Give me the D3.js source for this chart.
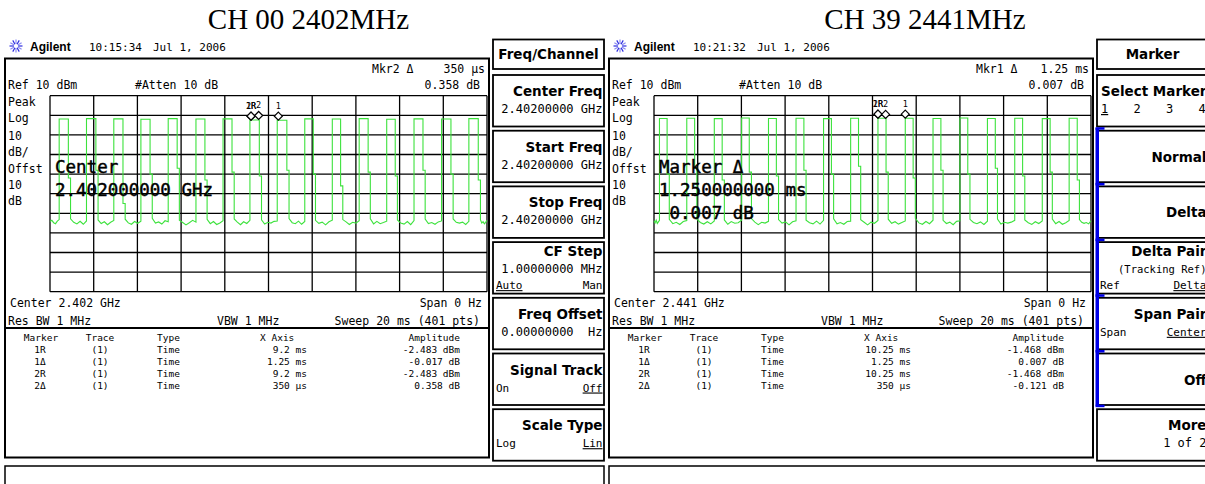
<!DOCTYPE html>
<html>
<head>
<meta charset="utf-8">
<script src="https://cdn.jsdelivr.net/npm/d3@7"></script>
<style>
body { margin: 0; background: #fff; }
svg { display: block; }
</style>
</head>
<body>
<div id="container"></div>
<script>
// Declare the page dimensions.
const width = 1205;
const height = 484;

// Sweep settings shared by both screens.
const sweepMs = 20;
const refDbm = 10;
const dbPerDiv = 10;
const xTicksMs = d3.range(0, 20.001, 2);
const yTicksDbm = d3.range(-90, 10.001, 10);

// Captions and readouts.
const titles = ["CH 00 2402MHz", "CH 39 2441MHz"];
const clockTimes = ["10:15:34", "10:21:32"];
const clockDate = "Jul 1, 2006";
const mkrHead = [["Mkr2 \u0394", "350 \u03bcs", "0.358 dB"], ["Mkr1 \u0394", "1.25 ms", "0.007 dB"]];
const refLine = ["Ref 10 dBm", "#Atten 10 dB"];
const scaleLabels = ["Peak", "Log", "10", "dB/", "Offst", "10", "dB"];
const centerLabels = ["Center 2.402 GHz", "Center 2.441 GHz"];
const bwLine = ["Res BW 1 MHz", "VBW 1 MHz", "Sweep 20 ms (401 pts)"];
const overlayText = [["Center", "2.402000000 GHz"], ["Marker \u0394", "1.250000000 ms", " 0.007 dB"]];

// Marker table.
const tableHead = ["Marker", "Trace", "Type", "X Axis", "Amplitude"];
const markerRows0 = [
	["1R", "(1)", "Time", "9.2 ms", "-2.483 dBm"],
	["1\u0394", "(1)", "Time", "1.25 ms", "-0.017 dB"],
	["2R", "(1)", "Time", "9.2 ms", "-2.483 dBm"],
	["2\u0394", "(1)", "Time", "350 \u03bcs", "0.358 dB"]
];
const markerRows39 = [
	["1R", "(1)", "Time", "10.25 ms", "-1.468 dBm"],
	["1\u0394", "(1)", "Time", "1.25 ms", "0.007 dB"],
	["2R", "(1)", "Time", "10.25 ms", "-1.468 dBm"],
	["2\u0394", "(1)", "Time", "350 \u03bcs", "-0.121 dB"]
];
// On-screen marker labels, with X (ms) and level (dB) of each marker.
const markerLabels = ["1R", "1", "2R", "2"];
const markerMs0 = [9.2, 1.25, 9.2, 0.35];
const markerDb0 = [-2.483, -0.017, -2.483, 0.358];
const markerMs39 = [10.25, 1.25, 10.25, 0.35];
const markerDb39 = [-1.468, 0.007, -1.468, -0.121];

// Trace CH 00: pulse edges (ms), top level and fall shoulder (dBm), floor noise per gap (dBm).
const pulseOn0  = [0.42, 1.67, 2.92, 4.16, 5.41, 6.68, 7.92, 9.15, 10.40, 11.66, 12.92, 14.15, 15.41, 16.66, 17.92, 19.17];
const pulseOff0 = [0.84, 2.10, 3.34, 4.58, 5.82, 7.09, 8.33, 9.58, 10.84, 12.05, 13.30, 14.56, 15.80, 17.07, 18.35, 19.60];
const pulseTop0 = [-1.9, -1.7, -1.8, -2.0, -1.7, -1.9, -1.8, -2.4, -2.5, -1.8, -1.9, -1.7, -2.0, -1.8, -1.9, -1.7];
const pulseMid0 = [-32, -28, -45, -30, -27, -33, -29, -31, -28, -30, -36, -29, -31, -28, -30, -33];
const floor0 = [
	[-54.2, -53.6, -54.8, -55.3, -54.0, -53.2],
	[-52.8, -54.6, -55.4, -54.1, -55.6, -53.9],
	[-53.4, -55.2, -54.3, -55.8, -54.6, -53.7],
	[-53.0, -54.9, -55.6, -54.2, -55.1, -54.0],
	[-52.6, -55.0, -54.4, -55.5, -53.8, -54.3],
	[-53.5, -54.7, -55.9, -54.8, -53.6, -54.5],
	[-53.1, -55.3, -54.2, -55.7, -54.9, -53.8],
	[-52.9, -54.5, -55.8, -54.3, -55.2, -53.6],
	[-53.3, -55.5, -54.6, -55.0, -54.1, -53.9],
	[-52.7, -54.8, -55.3, -54.0, -55.6, -54.2],
	[-53.6, -55.1, -54.5, -55.9, -54.3, -53.5],
	[-53.2, -54.4, -55.7, -54.6, -55.0, -53.8],
	[-52.8, -55.4, -54.1, -55.3, -54.7, -54.0],
	[-53.4, -54.9, -55.5, -54.2, -55.8, -53.7],
	[-53.0, -55.2, -54.7, -55.6, -54.4, -53.9],
	[-52.9, -54.6, -55.0, -54.5, -55.7, -54.1],
	[-53.3, -55.0, -54.3, -55.4, -54.6, -53.6]
];

// Trace CH 39.
const pulseOn39  = [0.25, 1.50, 2.76, 4.01, 5.24, 6.50, 7.76, 9.00, 10.25, 11.50, 12.77, 14.00, 15.26, 16.51, 17.77, 19.00];
const pulseOff39 = [0.60, 1.86, 3.12, 4.36, 5.60, 6.86, 8.12, 9.36, 10.62, 11.86, 13.13, 14.36, 15.62, 16.87, 18.13, 19.37];
const pulseTop39 = [-1.6, -1.5, -1.7, -1.4, -1.6, -1.5, -1.7, -1.5, -1.5, -1.5, -1.6, -1.4, -1.6, -1.5, -1.7, -1.5];
const pulseMid39 = [-30, -27, -33, -29, -31, -28, -30, -26, -29, -32, -28, -30, -27, -31, -29, -33];
const floor39 = [
	[-53.8, -54.9, -53.5, -55.2, -54.4, -53.6],
	[-53.1, -55.3, -54.6, -55.7, -54.2, -53.7],
	[-52.9, -54.7, -55.5, -54.3, -55.4, -53.9],
	[-53.4, -55.6, -54.2, -55.1, -54.8, -53.5],
	[-52.7, -54.5, -55.8, -54.6, -55.0, -54.1],
	[-53.2, -55.0, -54.4, -55.9, -54.3, -53.8],
	[-53.5, -54.8, -55.4, -54.0, -55.5, -53.6],
	[-52.8, -55.4, -54.7, -55.6, -54.2, -54.0],
	[-53.3, -54.6, -55.9, -54.5, -55.1, -53.7],
	[-53.0, -55.1, -54.3, -55.5, -54.7, -53.9],
	[-52.6, -54.9, -55.6, -54.2, -55.3, -53.5],
	[-53.6, -55.2, -54.5, -55.8, -54.1, -53.8],
	[-53.1, -54.7, -55.3, -54.4, -55.7, -54.0],
	[-52.9, -55.5, -54.6, -55.0, -54.5, -53.6],
	[-53.4, -54.8, -55.7, -54.3, -55.2, -53.9],
	[-53.0, -55.3, -54.2, -55.6, -54.8, -53.7],
	[-53.2, -54.6, -55.1, -54.7, -55.4, -53.8]
];

// Softkey menus.
const menuTitles = ["Freq/Channel", "Marker"];
const softkeys0 = [
	{t: "Center Freq", v: "2.40200000 GHz"},
	{t: "Start Freq", v: "2.40200000 GHz"},
	{t: "Stop Freq", v: "2.40200000 GHz"},
	{t: "CF Step", v: "1.00000000 MHz", l: "Auto", r: "Man", u: "l"},
	{t: "Freq Offset", v: "0.00000000  Hz"},
	{t: "Signal Track", l: "On", r: "Off", u: "r"},
	{t: "Scale Type", l: "Log", r: "Lin", u: "r"}
];
const softkeys39 = [
	{t: "Select Marker", nums: ["1", "2", "3", "4"]},
	{t: "Normal"},
	{t: "Delta"},
	{t: "Delta Pair", v: "(Tracking Ref)", l: "Ref", r: "Delta", u: "r"},
	{t: "Span Pair", l: "Span", r: "Center", u: "r"},
	{t: "Off"},
	{t: "More", v: "1 of 2"}
];

const screens = [
	{ox: 0, on: pulseOn0, off: pulseOff0, top: pulseTop0, mid: pulseMid0, floor: floor0,
	 rows: markerRows0, mMs: markerMs0, mDb: markerDb0, keys: softkeys0},
	{ox: 604, on: pulseOn39, off: pulseOff39, top: pulseTop39, mid: pulseMid39, floor: floor39,
	 rows: markerRows39, mMs: markerMs39, mDb: markerDb39, keys: softkeys39}
];

const mono = "'DejaVu Sans Mono', monospace";
const bold = "'DejaVu Sans', sans-serif";
const traceColor = "#3de23d";

// Create the SVG container.
const svg = d3.select("#container").append("svg")
	.attr("width", width)
	.attr("height", height)
	.style("background", "#fff");

const text = function(g, x, y, s, size, anchor, family, weight) {
	return g.append("text")
		.attr("x", x)
		.attr("y", y)
		.attr("font-size", size)
		.attr("font-family", family || mono)
		.attr("font-weight", weight || "normal")
		.attr("text-anchor", anchor || "start")
		.attr("fill", "#000")
		.style("white-space", "pre")
		.text(s);
}

// Build the polyline of a trace from its pulses and floor noise.
const buildTrace = function(sc) {
	const pts = [];
	let t0 = 0;
	for (let i = 0; i <= sc.on.length; i++) {
		const t1 = i < sc.on.length ? sc.on[i] : sweepMs;
		const f = sc.floor[i];
		f.forEach((v, j) => pts.push([t0 + (t1 - t0) * j / (f.length - 1), v]));
		if (i < sc.on.length) {
			pts.push([sc.on[i], sc.top[i]], [sc.off[i], sc.top[i]], [sc.off[i], sc.mid[i]], [sc.off[i] + 0.1, sc.mid[i]]);
			t0 = sc.off[i] + 0.1;
		}
	}
	return pts;
}

screens.forEach((sc, si) => {
	const ox = sc.ox;
	const g = svg.append("g");

	// Caption above the screen.
	text(g, [308.5, 925][si], 29, titles[si], 29, "middle", "'Liberation Serif', 'Times New Roman', serif");

	// Agilent logo and clock.
	const logo = g.append("g").attr("transform", `translate(${16 + ox},46)`);
	d3.range(12).forEach(k => {
		const a = k * Math.PI / 6;
		logo.append("line")
			.attr("x1", 2 * Math.cos(a)).attr("y1", 2 * Math.sin(a))
			.attr("x2", 6.5 * Math.cos(a)).attr("y2", 6.5 * Math.sin(a))
			.attr("stroke", k % 2 ? "#8a8af0" : "#2a2ae0")
			.attr("stroke-width", 1.2);
	});
	text(g, 30 + ox, 51, "Agilent", 12, "start", "'Liberation Sans', Arial, sans-serif", "bold");
	text(g, 89 + ox, 51, clockTimes[si], 11, "start");
	text(g, 153 + ox, 51, clockDate, 11, "start");

	// Instrument frame and marker table box.
	g.append("rect")
		.attr("x", 5 + ox).attr("y", 58.5)
		.attr("width", 484).attr("height", 399)
		.attr("fill", "none").attr("stroke", "#000").attr("stroke-width", 2);
	g.append("line")
		.attr("x1", 5 + ox).attr("x2", 489 + ox)
		.attr("y1", 328).attr("y2", 328)
		.attr("stroke", "#000").attr("stroke-width", 2);

	// Readouts.
	text(g, 372 + ox, 73, mkrHead[si][0], 11.5);
	text(g, 485 + ox, 73, mkrHead[si][1], 11.5, "end");
	text(g, 480 + ox, 89, mkrHead[si][2], 11.5, "end");
	text(g, 8 + ox, 89, refLine[0], 11.5);
	text(g, 135 + ox, 89, refLine[1], 11.5);
	const labelY = [106, 122, 140, 156, 173, 189, 205];
	scaleLabels.forEach((s, i) => text(g, 8 + ox, labelY[i], s, 11.5));
	text(g, 10 + ox, 307, centerLabels[si], 11.5);
	text(g, 482 + ox, 307, "Span 0 Hz", 11.5, "end");
	text(g, 8 + ox, 325, bwLine[0], 11.5);
	text(g, 217 + ox, 325, bwLine[1], 11.5);
	text(g, 480 + ox, 325, bwLine[2], 11.5, "end");

	// Declare the x (time) and y (level) scales.
	const x = d3.scaleLinear().domain([0, sweepMs]).range([50 + ox, 487 + ox]);
	const y = d3.scaleLinear().domain([refDbm - 10 * dbPerDiv, refDbm]).range([291.7, 95.7]);

	// Graticule.
	const grid = g.append("g").attr("stroke", "#000").attr("stroke-width", 1.3);
	grid.selectAll(".vx").data(xTicksMs).join("line")
		.attr("x1", d => x(d)).attr("x2", d => x(d))
		.attr("y1", y.range()[0]).attr("y2", y.range()[1]);
	grid.selectAll(".hy").data(yTicksDbm).join("line")
		.attr("x1", x.range()[0]).attr("x2", x.range()[1])
		.attr("y1", d => y(d)).attr("y2", d => y(d));

	// Trace.
	g.append("path")
		.datum(buildTrace(sc))
		.attr("fill", "none")
		.attr("stroke", traceColor)
		.attr("stroke-width", 1.1)
		.attr("d", d3.line().x(d => x(d[0])).y(d => y(d[1])));

	// Markers.
	const mk = markerLabels.map((lab, i) => {
		const ref = i % 2 === 0;
		const ms = ref ? sc.mMs[i] : sc.mMs[i - 1] + sc.mMs[i];
		const db = ref ? sc.mDb[i] : sc.mDb[i - 1] + sc.mDb[i];
		return {lab, ms, db};
	});
	g.selectAll(".mkd").data(mk).join("path")
		.attr("d", d => {
			const cx = x(d.ms), cy = y(d.db) - 4;
			return `M${cx},${cy - 4}L${cx + 4},${cy}L${cx},${cy + 4}L${cx - 4},${cy}Z`;
		})
		.attr("fill", "#fff").attr("stroke", "#000").attr("stroke-width", 1.2);
	g.selectAll(".mkl").data(mk).join("text")
		.attr("x", d => x(d.ms)).attr("y", d => y(d.db) - 11)
		.attr("text-anchor", "middle")
		.attr("font-family", mono).attr("font-size", 8.5)
		.text(d => d.lab);

	// Large overlay readout.
	overlayText[si].forEach((s, i) => text(g, 55 + ox, 173 + 23 * i, s, 17.5)
		.attr("stroke", "#000").attr("stroke-width", 0.45));

	// Marker table.
	const colX = [41, 100, 157, 260, 460];
	const colA = ["middle", "middle", "start", "start", "end"];
	tableHead.forEach((s, i) => text(g, colX[i] + ox, 341, s, 9.5, colA[i]));
	const valX = [40, 100, 157, 307, 460];
	const valA = ["middle", "middle", "start", "end", "end"];
	sc.rows.forEach((row, r) => {
		row.forEach((s, i) => text(g, valX[i] + ox, 353 + 12 * r, s, 9.5, valA[i]));
	});

	// Bottom status box.
	g.append("rect")
		.attr("x", 5 + ox).attr("y", 466)
		.attr("width", 599).attr("height", 40)
		.attr("fill", "none").attr("stroke", "#000").attr("stroke-width", 1.5);

	// Softkey column.
	const kx0 = 493 + ox, kx1 = 604 + ox;
	g.append("rect")
		.attr("x", kx0).attr("y", 39.5).attr("width", kx1 - kx0).attr("height", 29.5)
		.attr("fill", "none").attr("stroke", "#000").attr("stroke-width", 1.8);
	text(g, (kx0 + kx1) / 2, 59, menuTitles[si], 13.5, "middle", bold, "bold");

	sc.keys.forEach((k, i) => {
		const top = 75 + 55.7 * i;
		g.append("rect")
			.attr("x", kx0).attr("y", top).attr("width", kx1 - kx0).attr("height", 51.5)
			.attr("fill", "none").attr("stroke", "#000").attr("stroke-width", 1.8);
		const right = kx1 - 1.5;
		const three = k.v && (k.l || k.r);
		const single = !k.v && !k.l && !k.nums;
		const ty = three ? 14 : single ? 31 : 21;
		text(g, right, top + ty, k.t, 13.5, "end", bold, "bold");
		if (k.v) text(g, right, top + (three ? 31 : 38), k.v, k.v.startsWith("(") ? 10.5 : 12, "end");
		const ly = top + (three ? 47 : 38);
		if (k.l) text(g, kx0 + 3, ly, k.l, 11).style("text-decoration", k.u === "l" ? "underline" : "none");
		if (k.r) text(g, right, ly, k.r, 11, "end").style("text-decoration", k.u === "r" ? "underline" : "none");
		if (k.nums) k.nums.forEach((n, j) => text(g, kx0 + 4 + 32.5 * j, top + 38, n, 12)
			.style("text-decoration", j === 0 ? "underline" : "none"));
	});

	// Active group bracket on the marker menu.
	if (si === 1) {
		const b0 = 75 + 55.7 - 2.5, b1 = 75 + 55.7 * 6 - 3.5;
		g.append("rect").attr("x", kx0 - 1.5).attr("y", b0).attr("width", 3.5).attr("height", b1 - b0).attr("fill", "#0000e6");
		d3.range(1, 7).forEach(j => {
			const yy = 75 + 55.7 * j - 2.5 + (j === 6 ? -1 : 0);
			g.append("rect").attr("x", kx0 - 1.5).attr("y", yy - 1).attr("width", 9).attr("height", 2.5).attr("fill", "#0000e6");
		});
	}
});
</script>
</body>
</html>
